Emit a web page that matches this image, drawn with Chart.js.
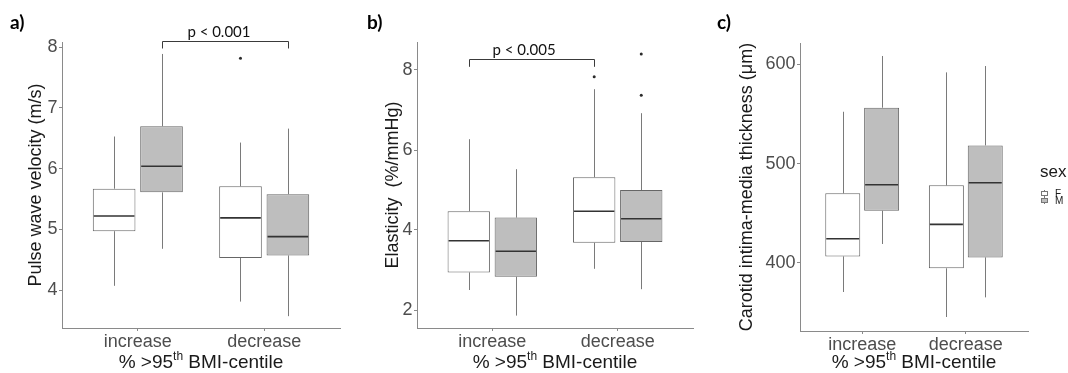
<!DOCTYPE html>
<html>
<head>
<meta charset="utf-8">
<script src="https://cdn.jsdelivr.net/npm/chart.js@4.4.1/dist/chart.umd.min.js"></script>
<style>
  html, body { margin: 0; padding: 0; background: #fff; }
  .stage { position: relative; width: 1068px; height: 373px; overflow: hidden; }
  canvas { position: absolute; top: 0; }
</style>
</head>
<body>
<div class="stage">
  <canvas id="chartA" width="350" height="373" style="left:0px"></canvas>
  <canvas id="chartB" width="350" height="373" style="left:350px"></canvas>
  <canvas id="chartC" width="368" height="373" style="left:700px"></canvas>
</div>
<script>
const groups = ['increase', 'decrease'];
const sexes = ['F', 'M'];

// each entry: [lower whisker, Q1, median, Q3, upper whisker] for increase / decrease
const pwvFemale = [[4.07, 4.97, 5.22, 5.67, 6.53], [3.81, 4.53, 5.19, 5.71, 6.43]];
const pwvMale = [[4.68, 5.61, 6.04, 6.70, 7.89], [3.57, 4.57, 4.88, 5.58, 6.66]];
const pwvOutFemale = [[], [7.82]];
const pwvOutMale = [[], []];
const pwvTicks = [4, 5, 6, 7, 8];

const elaFemale = [[2.50, 2.94, 3.73, 4.47, 6.27], [3.03, 3.68, 4.47, 5.32, 7.52]];
const elaMale = [[1.86, 2.83, 3.47, 4.31, 5.52], [2.52, 3.70, 4.28, 5.00, 6.92]];
const elaOutFemale = [[], [7.83]];
const elaOutMale = [[], [8.40, 7.37]];
const elaTicks = [2, 4, 6, 8];

const cimtFemale = [[370.5, 406.4, 424.2, 470.0, 552.2], [345.3, 394.4, 438.7, 478.0, 591.9]];
const cimtMale = [[418.9, 452.4, 478.6, 556.3, 608.4], [365.1, 405.4, 480.6, 518.3, 598.3]];
const cimtOutFemale = [[], []];
const cimtOutMale = [[], []];
const cimtTicks = [400, 500, 600];

const FONT = 'Liberation Sans, Arial, sans-serif';
const NOTE_FONT = 'Lato, Liberation Sans, sans-serif';
const DODGE = 0.1875; // half of the dodge slot (0.75 / 4)
const AXIS_GREY = '#8a8a8a';

const boxDataset = (label, stats, fill) => ({
  type: 'bar',
  label,
  data: stats.map((s, i) => ({ x: i + 1, y: [s[1], s[3]] })),
  backgroundColor: fill,
  borderColor: '#666666',
  borderWidth: 1,
  borderSkipped: false,
  categoryPercentage: 0.75,
  barPercentage: 0.9,
});

const outlierDataset = (outF, outM) => ({
  type: 'scatter',
  data: [
    ...outF.flatMap((vals, i) => vals.map((v) => ({ x: i + 1 - DODGE, y: v }))),
    ...outM.flatMap((vals, i) => vals.map((v) => ({ x: i + 1 + DODGE, y: v }))),
  ],
  pointRadius: 1.5,
  backgroundColor: '#2b2b2b',
  borderWidth: 0,
});

const drawXTitle = (ctx, area) => {
  const parts = [
    { text: '% >95', size: 19, rise: 0 },
    { text: 'th', size: 12, rise: 8 },
    { text: ' BMI-centile', size: 19, rise: 0 },
  ];
  let total = 0;
  parts.forEach((p) => {
    ctx.font = `${p.size}px ${FONT}`;
    p.w = ctx.measureText(p.text).width;
    total += p.w;
  });
  let x = (area.left + area.right) / 2 - total / 2;
  ctx.fillStyle = '#1a1a1a';
  ctx.textAlign = 'left';
  ctx.textBaseline = 'alphabetic';
  parts.forEach((p) => {
    ctx.font = `${p.size}px ${FONT}`;
    ctx.fillText(p.text, x, 368 - p.rise);
    x += p.w;
  });
};

const drawLegend = (ctx, x0) => {
  ctx.textAlign = 'left';
  ctx.textBaseline = 'alphabetic';
  ctx.fillStyle = '#1a1a1a';
  ctx.font = `17px ${FONT}`;
  ctx.fillText('sex', x0, 177);
  sexes.forEach((s, i) => {
    const cy = 193.5 + i * 7;
    const cx = x0 + 4.5;
    ctx.strokeStyle = '#777777';
    ctx.lineWidth = 1;
    ctx.beginPath();
    ctx.moveTo(cx, cy - 3.5);
    ctx.lineTo(cx, cy + 3.5);
    ctx.stroke();
    ctx.fillStyle = i === 0 ? '#ffffff' : '#bebebe';
    ctx.fillRect(cx - 3, cy - 2, 6, 4);
    ctx.strokeRect(cx - 3, cy - 2, 6, 4);
    ctx.fillStyle = '#1a1a1a';
    ctx.font = `10px ${FONT}`;
    ctx.fillText(s, x0 + 15, cy + 3.5);
  });
};

const boxPlugin = (cfg) => ({
  id: 'boxExtras',
  beforeDatasetsDraw(chart) {
    const { ctx } = chart;
    const yScale = chart.scales.y;
    ctx.save();
    ctx.strokeStyle = '#7a7a7a';
    ctx.lineWidth = 1;
    [cfg.female, cfg.male].forEach((stats, di) => {
      chart.getDatasetMeta(di).data.forEach((bar, i) => {
        const [lo, q1, , q3, hi] = stats[i];
        const x = Math.round(bar.x) + 0.5;
        ctx.beginPath();
        ctx.moveTo(x, yScale.getPixelForValue(hi));
        ctx.lineTo(x, yScale.getPixelForValue(q3));
        ctx.moveTo(x, yScale.getPixelForValue(q1));
        ctx.lineTo(x, yScale.getPixelForValue(lo));
        ctx.stroke();
      });
    });
    ctx.restore();
  },
  afterDatasetsDraw(chart) {
    const { ctx, chartArea } = chart;
    const xScale = chart.scales.x;
    const yScale = chart.scales.y;
    ctx.save();

    // medians
    ctx.strokeStyle = '#333333';
    ctx.lineWidth = 1.6;
    [cfg.female, cfg.male].forEach((stats, di) => {
      chart.getDatasetMeta(di).data.forEach((bar, i) => {
        const y = yScale.getPixelForValue(stats[i][2]);
        ctx.beginPath();
        ctx.moveTo(bar.x - bar.width / 2 + 1, y);
        ctx.lineTo(bar.x + bar.width / 2 - 1, y);
        ctx.stroke();
      });
    });

    // significance bracket
    if (cfg.bracket) {
      const b = cfg.bracket;
      const x1 = Math.round(xScale.getPixelForValue(b.x1)) + 0.5;
      const x2 = Math.round(xScale.getPixelForValue(b.x2)) + 0.5;
      const yl = Math.round(yScale.getPixelForValue(b.yLine)) + 0.5;
      const ye = yScale.getPixelForValue(b.yEnd);
      ctx.strokeStyle = '#3a3a3a';
      ctx.lineWidth = 1;
      ctx.beginPath();
      ctx.moveTo(x1, ye);
      ctx.lineTo(x1, yl);
      ctx.lineTo(x2, yl);
      ctx.lineTo(x2, ye);
      ctx.stroke();
      ctx.fillStyle = '#111111';
      ctx.font = `15px ${NOTE_FONT}`;
      ctx.textAlign = 'center';
      ctx.textBaseline = 'alphabetic';
      ctx.fillText(b.text, xScale.getPixelForValue(b.textX), yl - 5);
    }

    // panel letter
    ctx.fillStyle = '#000000';
    ctx.font = `bold 19px ${NOTE_FONT}`;
    ctx.textAlign = 'left';
    ctx.textBaseline = 'alphabetic';
    ctx.fillText(cfg.letter, cfg.letterX, 29);

    drawXTitle(ctx, chartArea);
    if (cfg.legend) drawLegend(ctx, cfg.legendX);
    ctx.restore();
  },
});

const makePanel = (id, cfg) => {
  const axisText = { family: FONT, size: 18 };
  return new Chart(document.getElementById(id), {
    type: 'bar',
    data: {
      datasets: [
        boxDataset(sexes[0], cfg.female, '#ffffff'),
        boxDataset(sexes[1], cfg.male, '#bebebe'),
        outlierDataset(cfg.outFemale, cfg.outMale),
      ],
    },
    options: {
      responsive: false,
      animation: false,
      events: [],
      layout: { padding: { left: 0, right: cfg.padRight, top: cfg.padTop, bottom: 0 } },
      plugins: { legend: { display: false }, tooltip: { enabled: false } },
      scales: {
        x: {
          type: 'linear',
          min: 0.4,
          max: 2.6,
          offset: false,
          afterFit: (scale) => { scale.height = cfg.xHeight; },
          afterBuildTicks: (scale) => { scale.ticks = groups.map((g, i) => ({ value: i + 1 })); },
          ticks: {
            callback: (value, index) => groups[index],
            font: axisText,
            color: '#4d4d4d',
            padding: 0,
            autoSkip: false,
            maxRotation: 0,
          },
          grid: { display: true, offset: false, drawOnChartArea: false, tickLength: 3, color: AXIS_GREY },
          border: { display: true, color: AXIS_GREY, width: 1 },
        },
        y: {
          type: 'linear',
          min: cfg.yMin,
          max: cfg.yMax,
          afterFit: (scale) => { scale.width = cfg.yWidth; },
          afterBuildTicks: (scale) => { scale.ticks = cfg.ticks.map((v) => ({ value: v })); },
          ticks: { font: axisText, color: '#4d4d4d', padding: 1.5 },
          grid: { display: true, drawOnChartArea: false, tickLength: 3, color: AXIS_GREY },
          border: { display: true, color: AXIS_GREY, width: 1 },
          title: {
            display: true,
            text: cfg.yTitle,
            font: { family: FONT, size: 18 },
            color: '#1a1a1a',
            padding: { top: cfg.titlePad, bottom: 0 },
          },
        },
      },
    },
    plugins: [boxPlugin(cfg)],
  });
};

makePanel('chartA', {
  female: pwvFemale, male: pwvMale, outFemale: pwvOutFemale, outMale: pwvOutMale,
  ticks: pwvTicks, yMin: 3.375, yMax: 8.087,
  yTitle: 'Pulse wave velocity (m/s)', titlePad: 25,
  yWidth: 62, padRight: 10, padTop: 42, xHeight: 45,
  letter: 'a)', letterX: 10,
  bracket: { x1: 1 + DODGE, x2: 2 + DODGE, yLine: 8.11, yEnd: 7.98, text: 'p < 0.001', textX: 1.642 },
});

makePanel('chartB', {
  female: elaFemale, male: elaMale, outFemale: elaOutFemale, outMale: elaOutMale,
  ticks: elaTicks, yMin: 1.55, yMax: 8.7,
  yTitle: 'Elasticity  (%/mmHg)', titlePad: 32,
  yWidth: 67, padRight: 7, padTop: 42, xHeight: 45,
  letter: 'b)', letterX: 17,
  bracket: { x1: 1 - DODGE, x2: 2 - DODGE, yLine: 8.27, yEnd: 8.08, text: 'p < 0.005', textX: 1.253 },
});

makePanel('chartC', {
  female: cimtFemale, male: cimtMale, outFemale: cimtOutFemale, outMale: cimtOutMale,
  ticks: cimtTicks, yMin: 331.2, yMax: 621.5,
  yTitle: 'Carotid intima-media thickness (\u03bcm)', titlePad: 36,
  yWidth: 100, padRight: 40, padTop: 43, xHeight: 42,
  letter: 'c)', letterX: 17,
  legend: true, legendX: 340,
});
</script>
</body>
</html>
